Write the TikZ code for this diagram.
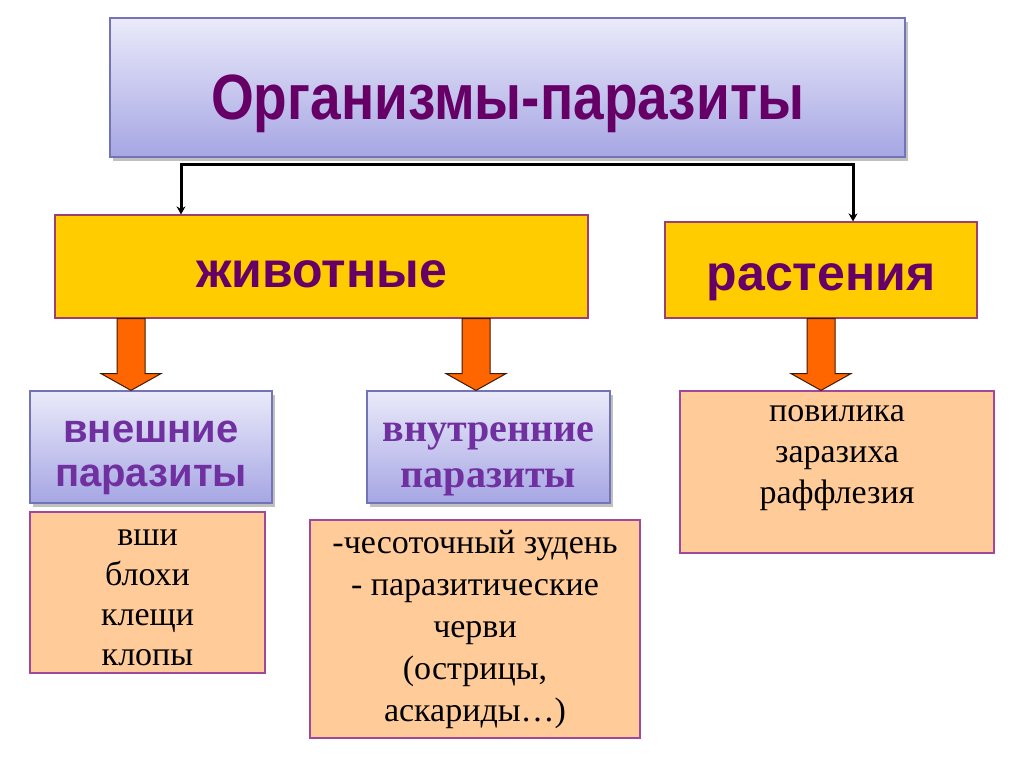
\documentclass[tikz,border=0pt]{standalone}
\usepackage{fontspec}
\setmainfont{Liberation Serif}
\setsansfont{Liberation Sans}
\newfontfamily\titlesans[FakeStretch=0.86]{Liberation Sans}
\usepackage{xcolor}
\usetikzlibrary{
		calc,
		positioning,
		arrows.meta,
		shadows
	}
\definecolor{plum}{HTML}{660066}
\definecolor{violet}{HTML}{7030A0}
\definecolor{lavtop}{HTML}{EAEAFA}
\definecolor{lavbot}{HTML}{A6A6E4}
\definecolor{lavedge}{HTML}{7373B8}
\definecolor{gold}{HTML}{FFCC00}
\definecolor{goldedge}{HTML}{9E3F73}
\definecolor{peach}{HTML}{FFCC99}
\definecolor{peachedge}{HTML}{A0479E}
\definecolor{flame}{HTML}{FF6600}
\tikzset{
		>=stealth,
		lavbox/.style={draw=lavedge, line width=1.2pt, top color=lavtop, bottom color=lavbot,
			drop shadow={shadow xshift=3pt, shadow yshift=-4pt, opacity=.35, fill=black!70},
			align=center, inner sep=0pt},
		goldbox/.style={draw=goldedge, line width=1.2pt, fill=gold, text=plum, text depth=0pt,
			font=\sffamily\bfseries\fontsize{50}{56}\selectfont, inner sep=0pt},
		peachbox/.style={draw=peachedge, line width=1.2pt, fill=peach, inner sep=0pt},
		listtext/.style={align=center, inner sep=0pt, font=\fontsize{34}{#1}\selectfont},
		kindtext/.style={align=center, inner sep=0pt, text=violet},
		bracket/.style={line width=3pt, {Stealth[length=8pt,width=9pt]}-{Stealth[length=8pt,width=9pt]}},
		blockarrow/.style={draw=black!75!flame, line width=1pt, fill=flame, line join=miter}
	}
\begin{document}
\begin{tikzpicture}[x=1pt, y=-1pt]
		\useasboundingbox[fill=white] (0,0) rectangle (1024,767);
		% top of the tree
		\node[lavbox, minimum width=795, minimum height=139, text=plum, text height=65pt, text depth=0pt,
			font=\titlesans\bfseries\fontsize{64}{70}\selectfont] (root) at (507.5,87.5) {Организмы-паразиты};
		% two kingdoms
		\node[goldbox, minimum width=533, minimum height=103, text height=41pt] (animals) at (321.5,266.5) {животные};
		\node[goldbox, minimum width=312, minimum height=96, text height=40pt] (plants) at (821,270) {растения};
		\coordinate (fork-l) at (181,165);
		\coordinate (fork-r) at (853,165);
		\draw[bracket] (animals.north -| fork-l) -- (fork-l) -- (fork-r) -- (plants.north -| fork-r);
		% kinds of animal parasites
		\node[lavbox, minimum width=242, minimum height=112] (outer) at (151,447) {};
		\node[kindtext, font=\sffamily\bfseries\fontsize{40}{44}\selectfont] (outer-text)
			at ($(outer)+(0,11)$) {внешние\\паразиты};
		\node[lavbox, minimum width=243, minimum height=112] (inner) at (488.5,447) {};
		\node[kindtext, font=\bfseries\fontsize{40}{46}\selectfont] (inner-text)
			at ($(inner)+(0,12)$) {внутренние\\паразиты};
		% examples
		\node[peachbox, minimum width=235, minimum height=161] (outer-list) at (147.5,592.5) {};
		\node[listtext=40] (outer-names) at ($(outer-list)+(0,5)$) {вши\\блохи\\клещи\\клопы};
		\node[peachbox, minimum width=330, minimum height=218] (inner-list) at (475,629) {};
		\node[listtext=42] (inner-names) at (inner-list)
			{-чесоточный зудень\\- паразитические\\черви\\(острицы,\\аскариды…)};
		\node[peachbox, minimum width=314, minimum height=162] (plants-list) at (837,472) {};
		\node[listtext=41, below=15pt of plants-list.north] (plants-names) {повилика\\заразиха\\раффлезия};
		% orange arrows: x of the shaft / from / to
		\foreach \px/\from/\to in {131/animals/outer, 476/animals/inner, 821/plants/plants-list}{
			\coordinate (a) at (\px,0);
			\draw[blockarrow] ($(\from.south -| a)+(-14,0)$) -- ++(0,55) -- ++(-16,0)
				-- (\to.north -| a) -- ($(\from.south -| a)+(30,55)$) -- ++(-16,0) -- ++(0,-55) -- cycle;
		}
	\end{tikzpicture}
\end{document}
